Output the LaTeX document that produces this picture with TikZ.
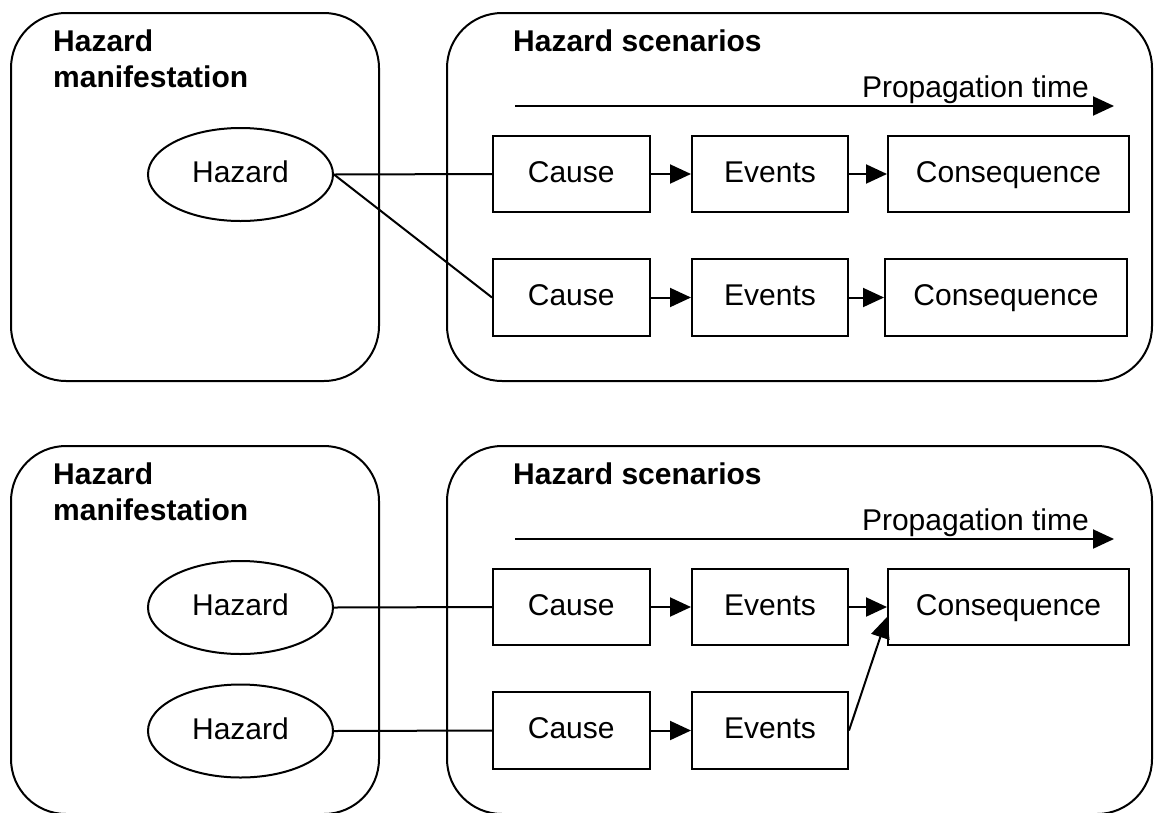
\documentclass[tikz,border=0pt]{standalone}
\usepackage{fontspec}
\setmainfont{Liberation Sans}
\usetikzlibrary{shapes.geometric,arrows.meta}
\begin{document}
\begin{tikzpicture}[x=1pt,y=-1pt,
  panel/.style={draw,line width=2pt,rounded corners=55pt},
  stepbox/.style={draw,line width=2pt,rectangle,inner sep=0pt,minimum height=76pt,
    text height=21pt,text depth=5pt,font=\fontsize{30}{36}\selectfont},
  hz/.style={draw,line width=2pt,ellipse,inner sep=0pt,minimum width=185pt,minimum height=93pt,
    text height=21pt,text depth=5pt,font=\fontsize{30}{36}\selectfont},
  link/.style={line width=2pt},
  flow/.style={line width=2pt,-{Triangle[length=21pt,width=19pt]}},
  title/.style={font=\fontsize{30}{36}\selectfont\bfseries,anchor=base west,inner sep=0pt},
  plabel/.style={font=\fontsize{30}{36}\selectfont,anchor=base east,inner sep=0pt}]
\useasboundingbox (0,0) rectangle (1154,812);

% ---------------- top diagram ----------------
\draw[panel] (11,13) rectangle (379,381);
\draw[panel] (447,13) rectangle (1152,381);
\node[title] (tA1) at (53,51) {Hazard};
\node[title] (tA2) at (53,87) {manifestation};
\node[title] (tA3) at (513,51) {Hazard scenarios};
\node[plabel] (pA) at (1089,97) {Propagation time};
\coordinate (pAs) at (515,106);
\coordinate (pAe) at (1114,106);
\draw[flow] (pAs) -- (pAe);

\node[hz] (hA) at (240.5,174.5) {Hazard};

\node[stepbox,minimum width=156.5pt] (cA1) at (571.25,174) {Cause};
\node[stepbox,minimum width=156pt] (eA1) at (770,174) {Events};
\node[stepbox,minimum width=241pt] (qA1) at (1008.5,174) {Consequence};
\node[stepbox,minimum width=156.5pt,minimum height=77pt] (cA2) at (571.25,297.5) {Cause};
\node[stepbox,minimum width=156pt,minimum height=77pt] (eA2) at (770,297.5) {Events};
\node[stepbox,minimum width=242pt,minimum height=77pt] (qA2) at (1006,297.5) {Consequence};

\draw[link] (hA.east) -- (cA1.west);
\draw[link] (hA.east) -- (cA2.west);
\draw[flow] (cA1.east) -- (eA1.west);
\draw[flow] (eA1.east) -- (qA1.west);
\draw[flow] (cA2.east) -- (eA2.west);
\draw[flow] (eA2.east) -- (qA2.west);

% ---------------- bottom diagram ----------------
\draw[panel] (11,446) rectangle (379,814);
\draw[panel] (447,446) rectangle (1152,814);
\node[title] (tB1) at (53,484) {Hazard};
\node[title] (tB2) at (53,520) {manifestation};
\node[title] (tB3) at (513,484) {Hazard scenarios};
\node[plabel] (pB) at (1089,530) {Propagation time};
\coordinate (pBs) at (515,539);
\coordinate (pBe) at (1114,539);
\draw[flow] (pBs) -- (pBe);

\node[hz] (hB1) at (240.5,607.5) {Hazard};
\node[hz] (hB2) at (240.5,731) {Hazard};

\node[stepbox,minimum width=156.5pt] (cB1) at (571.25,607) {Cause};
\node[stepbox,minimum width=156pt] (eB1) at (770,607) {Events};
\node[stepbox,minimum width=241pt] (qB1) at (1008.5,607) {Consequence};
\node[stepbox,minimum width=156.5pt,minimum height=77pt] (cB2) at (571.25,730.5) {Cause};
\node[stepbox,minimum width=156pt,minimum height=77pt] (eB2) at (770,730.5) {Events};
\coordinate (qB1in) at ([yshift=-10pt]qB1.west);

\draw[link] (hB1.east) -- (cB1.west);
\draw[link] (hB2.east) -- (cB2.west);
\draw[flow] (cB1.east) -- (eB1.west);
\draw[flow] (eB1.east) -- (qB1.west);
\draw[flow] (cB2.east) -- (eB2.west);
\draw[flow] (eB2.east) -- (qB1in);
\end{tikzpicture}
\end{document}
